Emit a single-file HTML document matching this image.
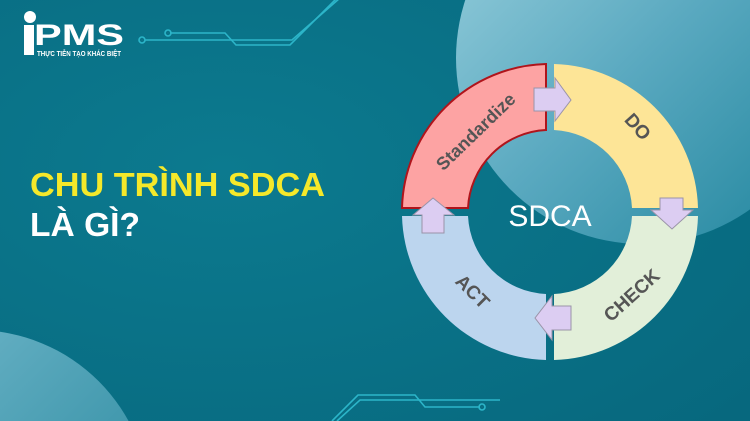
<!DOCTYPE html>
<html><head><meta charset="utf-8"><style>
html,body{margin:0;padding:0;width:750px;height:421px;overflow:hidden;background:#0b7389}
svg{display:block}
</style></head><body>
<svg width="750" height="421" viewBox="0 0 750 421" xmlns="http://www.w3.org/2000/svg">
<defs>
<linearGradient id="g1" x1="0" y1="0" x2="1" y2="1">
<stop offset="0" stop-color="#9dd2df"/><stop offset="0.5" stop-color="#5aa9c0"/><stop offset="1" stop-color="#1e849c"/>
</linearGradient>
<linearGradient id="g2" x1="0" y1="0" x2="1" y2="1">
<stop offset="0" stop-color="#7dbfd2"/><stop offset="1" stop-color="#1a7f95"/>
</linearGradient>
<radialGradient id="bg" cx="0.3" cy="0.4" r="0.9">
<stop offset="0" stop-color="#0c7a8f"/><stop offset="1" stop-color="#07687e"/>
</radialGradient>
</defs>
<rect width="750" height="421" fill="url(#bg)"/>
<circle cx="642" cy="58" r="186" fill="url(#g1)"/>
<circle cx="-25" cy="505" r="175" fill="url(#g2)"/>
<g fill="none" stroke="#2cb5c9" stroke-width="1.6">
<path d="M145 40 H292 L340 -2"/>
<path d="M170 33 H225 L236 45 H290 L337 -2"/>
<circle cx="142" cy="40" r="3"/><circle cx="168" cy="33" r="3"/>
<path d="M332 421 L358 395 H415 L425 407 H480"/>
<path d="M337 421 L360 400 H418"/>
<circle cx="482" cy="407" r="3"/>
<path d="M418 400 H500"/>
</g>
<circle cx="30" cy="17" r="6" fill="#fff"/>
<rect x="24" y="25" width="10" height="30" fill="#fff"/>
<text x="34" y="45" font-family="Liberation Sans,sans-serif" font-weight="bold" font-size="30" fill="#fff" textLength="90" lengthAdjust="spacingAndGlyphs">PMS</text>
<text x="37" y="56" font-family="Liberation Sans,sans-serif" font-weight="bold" font-size="7" fill="#fff" textLength="84" lengthAdjust="spacingAndGlyphs">THỰC TIỄN TẠO KHÁC BIỆT</text>
<text x="30" y="196" font-family="Liberation Sans,sans-serif" font-weight="bold" font-size="33" fill="#f5e82a" textLength="295" lengthAdjust="spacingAndGlyphs">CHU TRÌNH SDCA</text>
<text x="30" y="236" font-family="Liberation Sans,sans-serif" font-weight="bold" font-size="33" fill="#fff" textLength="110" lengthAdjust="spacingAndGlyphs">LÀ GÌ?</text>
<path d="M402 208 A148 148 0 0 1 546 64 L546 130 A82 82 0 0 0 468 208 Z" fill="#fda3a3" stroke="#b0141b" stroke-width="2"/>
<path d="M554 64 A148 148 0 0 1 698 208 L632 208 A82 82 0 0 0 554 130 Z" fill="#fde597"/>
<path d="M698 216 A148 148 0 0 1 554 360 L554 294 A82 82 0 0 0 632 216 Z" fill="#e2efd9"/>
<path d="M546 360 A148 148 0 0 1 402 216 L468 216 A82 82 0 0 0 546 294 Z" fill="#bcd5ee"/>
<g fill="#dccdf2" stroke="#9a94a8" stroke-width="1">
<path d="M534 88 H555 V78 L571 100 L555 121 V111 H534 Z"/>
<path d="M660 198 H683 V210 H693 L672 229 L651 210 H660 Z"/>
<path d="M571 306 H552 V296 L535 318 L552 340 V330 H571 Z"/>
<path d="M422 233 H444 V215 H454 L433 198 L413 215 H422 Z"/>
</g>
<text x="550" y="226" text-anchor="middle" font-family="Liberation Sans,sans-serif" font-size="30" fill="#fff">SDCA</text>
<g font-family="Liberation Sans,sans-serif" font-weight="bold" font-size="18" fill="#555" text-anchor="middle">
<text transform="translate(480,136) rotate(-44)">Standardize</text>
<text transform="translate(633,131) rotate(48)" font-size="19">DO</text>
<text transform="translate(636,300) rotate(-42)" font-size="19">CHECK</text>
<text transform="translate(468,296) rotate(45)" font-size="19">ACT</text>
</g>
</svg>
</body></html>
